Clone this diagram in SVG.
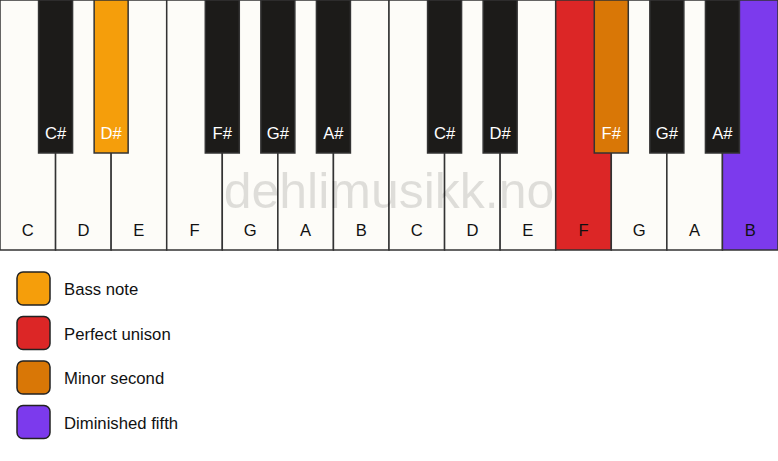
<svg xmlns="http://www.w3.org/2000/svg" width="778" height="461" viewBox="0 0 778 461">
<style>
.w{fill:#fdfcf8;stroke:#333;stroke-width:1.5}
.b{fill:#1c1b19;stroke:#333;stroke-width:1.5}
.wl{font-family:"Liberation Sans",Arial,sans-serif;font-size:16.6px;fill:#111;text-anchor:middle}
.bl{font-family:"Liberation Sans",Arial,sans-serif;font-size:16.6px;fill:#fff;text-anchor:middle}
.lg{stroke:#222;stroke-width:1.5}
.lt{font-family:"Liberation Sans",Arial,sans-serif;font-size:16.7px;fill:#111}
</style>
<rect width="778" height="461" fill="#ffffff"/>
<g id="white-keys">
<g id="key-C1"><rect class="w" x="0" y="0" width="55.57" height="250"/><text class="wl" x="27.8" y="236">C</text></g>
<g id="key-D1"><rect class="w" x="55.57" y="0" width="55.57" height="250"/><text class="wl" x="83.4" y="236">D</text></g>
<g id="key-E1"><rect class="w" x="111.14" y="0" width="55.57" height="250"/><text class="wl" x="138.9" y="236">E</text></g>
<g id="key-F1"><rect class="w" x="166.71" y="0" width="55.57" height="250"/><text class="wl" x="194.5" y="236">F</text></g>
<g id="key-G1"><rect class="w" x="222.29" y="0" width="55.57" height="250"/><text class="wl" x="250.1" y="236">G</text></g>
<g id="key-A1"><rect class="w" x="277.86" y="0" width="55.57" height="250"/><text class="wl" x="305.6" y="236">A</text></g>
<g id="key-B1"><rect class="w" x="333.43" y="0" width="55.57" height="250"/><text class="wl" x="361.2" y="236">B</text></g>
<g id="key-C2"><rect class="w" x="389" y="0" width="55.57" height="250"/><text class="wl" x="416.8" y="236">C</text></g>
<g id="key-D2"><rect class="w" x="444.57" y="0" width="55.57" height="250"/><text class="wl" x="472.4" y="236">D</text></g>
<g id="key-E2"><rect class="w" x="500.14" y="0" width="55.57" height="250"/><text class="wl" x="527.9" y="236">E</text></g>
<g id="key-F2"><rect class="w" x="555.71" y="0" width="55.57" height="250" style="fill:#dc2626"/><text class="wl" x="583.5" y="236">F</text></g>
<g id="key-G2"><rect class="w" x="611.29" y="0" width="55.57" height="250"/><text class="wl" x="639.1" y="236">G</text></g>
<g id="key-A2"><rect class="w" x="666.86" y="0" width="55.57" height="250"/><text class="wl" x="694.6" y="236">A</text></g>
<g id="key-B2"><rect class="w" x="722.43" y="0" width="55.57" height="250" style="fill:#7c3aed"/><text class="wl" x="750.2" y="236">B</text></g>
</g>
<text x="389" y="208" font-family="'Liberation Sans',Arial,sans-serif" font-size="50" fill="#000" fill-opacity="0.12" text-anchor="middle">dehlimusikk.no</text>
<g id="black-keys">
<g id="key-Cs1"><rect class="b" x="38.57" y="0" width="34" height="153"/><text class="bl" x="55.57" y="139">C#</text></g>
<g id="key-Ds1"><rect class="b" x="94.14" y="0" width="34" height="153" style="fill:#f59e0b"/><text class="bl" x="111.14" y="139">D#</text></g>
<g id="key-Fs1"><rect class="b" x="205.29" y="0" width="34" height="153"/><text class="bl" x="222.29" y="139">F#</text></g>
<g id="key-Gs1"><rect class="b" x="260.86" y="0" width="34" height="153"/><text class="bl" x="277.86" y="139">G#</text></g>
<g id="key-As1"><rect class="b" x="316.43" y="0" width="34" height="153"/><text class="bl" x="333.43" y="139">A#</text></g>
<g id="key-Cs2"><rect class="b" x="427.57" y="0" width="34" height="153"/><text class="bl" x="444.57" y="139">C#</text></g>
<g id="key-Ds2"><rect class="b" x="483.14" y="0" width="34" height="153"/><text class="bl" x="500.14" y="139">D#</text></g>
<g id="key-Fs2"><rect class="b" x="594.29" y="0" width="34" height="153" style="fill:#d97706"/><text class="bl" x="611.29" y="139">F#</text></g>
<g id="key-Gs2"><rect class="b" x="649.86" y="0" width="34" height="153"/><text class="bl" x="666.86" y="139">G#</text></g>
<g id="key-As2"><rect class="b" x="705.43" y="0" width="34" height="153"/><text class="bl" x="722.43" y="139">A#</text></g>
</g>
<g id="legend">
<g id="legend-bass"><rect class="lg" x="17" y="272" width="33" height="33" rx="6" fill="#f59e0b"/><text class="lt" x="64" y="295">Bass note</text></g>
<g id="legend-unison"><rect class="lg" x="17" y="316.5" width="33" height="33" rx="6" fill="#dc2626"/><text class="lt" x="64" y="339.5">Perfect unison</text></g>
<g id="legend-minor2"><rect class="lg" x="17" y="361" width="33" height="33" rx="6" fill="#d97706"/><text class="lt" x="64" y="384">Minor second</text></g>
<g id="legend-dim5"><rect class="lg" x="17" y="405.5" width="33" height="33" rx="6" fill="#7c3aed"/><text class="lt" x="64" y="428.5">Diminished fifth</text></g>
</g>
</svg>
